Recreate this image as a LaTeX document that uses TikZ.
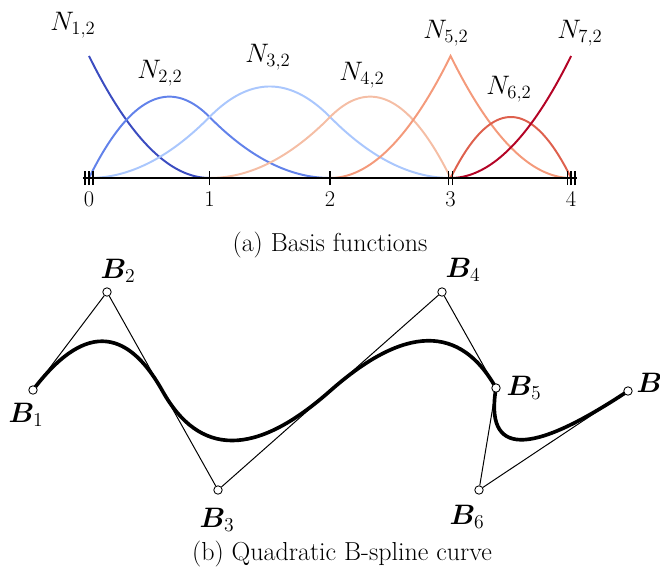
\RequirePackage{fix-cm}
\documentclass[tikz,border=0pt]{standalone}
\definecolor{BasisA}{RGB}{59,76,192}
\definecolor{BasisB}{RGB}{98,130,234}
\definecolor{BasisC}{RGB}{170,199,253}
\definecolor{BasisD}{RGB}{245,190,165}
\definecolor{BasisE}{RGB}{244,154,123}
\definecolor{BasisF}{RGB}{222,96,77}
\definecolor{BasisG}{RGB}{180,4,38}
\usepackage{amsmath, amssymb, bm}
\usepackage{xcolor}
\usepackage{tikz}
\usetikzlibrary{calc, backgrounds}
\tikzset{
  basis/.style={line width=1.4pt, samples=40},
  knot/.style={line width=0.9pt},
  axisline/.style={line width=0.9pt},
  ctrl/.style={circle, draw, fill=white, inner sep=0pt,
    minimum size=6pt, line width=0.6pt},
  poly/.style={line width=0.7pt},
  curve/.style={line width=2.6pt},
  nlbl/.style={font=\fontsize{19}{22}\selectfont},
  blbl/.style={font=\fontsize{20}{24}\selectfont},
  knotlbl/.style={font=\fontsize{16}{19}\selectfont},
  caption/.style={font=\fontsize{18.5}{22}\selectfont}
}

\begin{document}
\begin{tikzpicture}[x=0.025cm, y=-0.025cm]
  \useasboundingbox (0,0) rectangle (660,574);

  % (a) basis functions
  \begin{scope}[shift={(89,178)}, x=3.0125cm, y=3.05cm]
    \coordinate (ax0) at (-0.05,0);
    \coordinate (ax4) at (4.05,0);

    \draw[basis, BasisA] plot[domain=0:1] (\x,{(1-\x)*(1-\x)});
    \draw[basis, BasisB] plot[domain=0:1] (\x,{2*\x-1.5*\x*\x})
      -- plot[domain=1:2] (\x,{0.5*(2-\x)*(2-\x)});
    \draw[basis, BasisC] plot[domain=0:1] (\x,{0.5*\x*\x})
      -- plot[domain=1:2] (\x,{0.5+(\x-1)-(\x-1)*(\x-1)})
      -- plot[domain=2:3] (\x,{0.5*(3-\x)*(3-\x)});
    \draw[basis, BasisD] plot[domain=1:2] (\x,{0.5*(\x-1)*(\x-1)})
      -- plot[domain=2:3] (\x,{0.5+(\x-2)-1.5*(\x-2)*(\x-2)});
    \draw[basis, BasisE] plot[domain=2:3] (\x,{(\x-2)*(\x-2)})
      -- plot[domain=3:4] (\x,{(4-\x)*(4-\x)});
    \draw[basis, BasisF] plot[domain=3:4] (\x,{2*(\x-3)*(4-\x)});
    \draw[basis, BasisG] plot[domain=3:4] (\x,{(\x-3)*(\x-3)});

    \draw[axisline] (ax0) -- (ax4);
    % knots 0,0,0,1,2,3,3,4,4,4
    \foreach \d in {-1,0,1} {
      \draw[knot] (0,0) ++(\d*2.8pt,-5pt) -- ++(0,10pt);
      \draw[knot] (4,0) ++(\d*2.8pt,-5pt) -- ++(0,10pt);
    }
    \foreach \d in {-0.5,0.5}
      \draw[knot] (3,0) ++(\d*2.8pt,-5pt) -- ++(0,10pt);
    \foreach \k in {1,2}
      \draw[knot] (\k,0) ++(0,-5pt) -- ++(0,10pt);
    \foreach \k in {0,...,4}
      \node[knotlbl] (t\k) at ($(\k,0)+(0,-15pt)$) {\k};
  \end{scope}

  \node[nlbl] (n1) at (73,25)  {$N_{1,2}$};
  \node[nlbl] (n2) at (160,73) {$N_{2,2}$};
  \node[nlbl] (n3) at (268,57) {$N_{3,2}$};
  \node[nlbl] (n4) at (362,75) {$N_{4,2}$};
  \node[nlbl] (n5) at (446,33) {$N_{5,2}$};
  \node[nlbl] (n6) at (509,89) {$N_{6,2}$};
  \node[nlbl] (n7) at (580,33) {$N_{7,2}$};

  \node[caption] (capa) at (330,245) {(a) Basis functions};

  % (b) quadratic B-spline curve
  \node[ctrl] (B1) at (33,390)  {};
  \node[ctrl] (B2) at (107,292) {};
  \node[ctrl] (B3) at (218,490) {};
  \node[ctrl] (B4) at (442,292) {};
  \node[ctrl] (B5) at (496,388) {};
  \node[ctrl] (B6) at (479,490) {};
  \node[ctrl] (B7) at (628,391) {};

  \node[blbl] (b1) at (26,415)  {$\boldsymbol{B}_1$};
  \node[blbl] (b2) at (118,271) {$\boldsymbol{B}_2$};
  \node[blbl] (b3) at (217,520) {$\boldsymbol{B}_3$};
  \node[blbl] (b4) at (463,270) {$\boldsymbol{B}_4$};
  \node[blbl] (b5) at (524,388) {$\boldsymbol{B}_5$};
  \node[blbl] (b6) at (467,517) {$\boldsymbol{B}_6$};
  \node[blbl] (b7) at (654,385) {$\boldsymbol{B}_7$};

  \begin{pgfonlayer}{background}
    \draw[poly] (B1) -- (B2) -- (B3) -- (B4) -- (B5) -- (B6) -- (B7);
    \coordinate (m23) at ($(B2.center)!.5!(B3.center)$);
    \coordinate (m34) at ($(B3.center)!.5!(B4.center)$);
    \draw[curve] (B1.center)
      .. controls ($(B1.center)!2/3!(B2.center)$) and ($(m23)!2/3!(B2.center)$) .. (m23)
      .. controls ($(m23)!2/3!(B3.center)$) and ($(m34)!2/3!(B3.center)$) .. (m34)
      .. controls ($(m34)!2/3!(B4.center)$) and ($(B5.center)!2/3!(B4.center)$) .. (B5.center)
      .. controls ($(B5.center)!2/3!(B6.center)$) and ($(B7.center)!2/3!(B6.center)$) .. (B7.center);
  \end{pgfonlayer}

  \node[caption] (capb) at (342,554) {(b) Quadratic B-spline curve};
\end{tikzpicture}
\end{document}
